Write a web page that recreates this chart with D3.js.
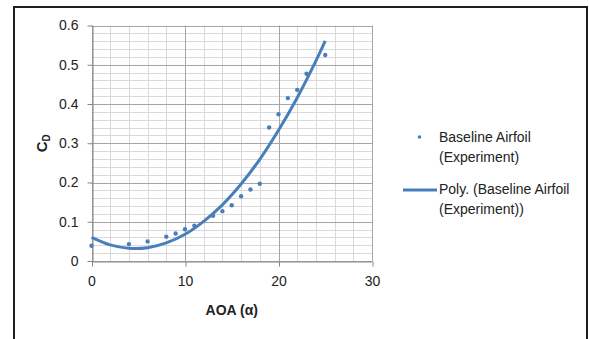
<!DOCTYPE html>
<html>
<head>
<meta charset="utf-8">
<script src="https://cdn.jsdelivr.net/npm/d3@7"></script>
<style>
  body { margin: 0; background: #fff; }
  text { font-family: "Liberation Sans", Arial, sans-serif; }
</style>
</head>
<body>
<script>
// measured points (AOA in degrees, Cd)
var aoa = [0, 4, 6, 8, 9, 10, 11, 13, 14, 15, 16, 17, 18, 19, 20, 21, 22, 23, 25];
var cd = [0.039, 0.043, 0.050, 0.062, 0.070, 0.081, 0.090, 0.115, 0.127, 0.142, 0.165, 0.182, 0.197, 0.340, 0.374, 0.415, 0.436, 0.477, 0.525];

// polynomial trendline
var trendAoa = [0, 2, 4, 6, 8, 10, 12, 14, 16, 18, 20, 22, 24, 25];
var trendCd = [0.060, 0.041, 0.0325, 0.034, 0.046, 0.068, 0.101, 0.143, 0.196, 0.259, 0.333, 0.416, 0.510, 0.561];

var xTicks = [0, 10, 20, 30];
var yTicks = [0, 0.1, 0.2, 0.3, 0.4, 0.5, 0.6];
var legendLabels = [["Baseline Airfoil", "(Experiment)"], ["Poly. (Baseline Airfoil", "(Experiment))"]];

var w = 589;
var h = 339;
var blue = "#4a7ebb";

var svg = d3.select("body")
	.append("svg")
	.attr("width", w)
	.attr("height", h);

// chart frame
svg.append("rect")
	.attr("x", 14)
	.attr("y", 7)
	.attr("width", 573)
	.attr("height", 345)
	.attr("fill", "none")
	.attr("stroke", "#1f1f1f")
	.attr("stroke-width", 2);

var x = d3.scaleLinear().domain([0, 30]).range([91.5, 372]);
var y = d3.scaleLinear().domain([0, 0.6]).range([261, 25.5]);

// minor grid
svg.append("g")
	.selectAll("line")
	.data(d3.range(0, 31, 2))
	.enter()
	.append("line")
	.attr("x1", function(d) { return Math.round(x(d)) + 0.5; })
	.attr("x2", function(d) { return Math.round(x(d)) + 0.5; })
	.attr("y1", y(0))
	.attr("y2", y(0.6))
	.attr("stroke", "#d9d9d9");

svg.append("g")
	.selectAll("line")
	.data(d3.range(0, 31).map(function(i) { return i * 0.02; }))
	.enter()
	.append("line")
	.attr("x1", x(0))
	.attr("x2", x(30))
	.attr("y1", function(d) { return Math.round(y(d)) + 0.5; })
	.attr("y2", function(d) { return Math.round(y(d)) + 0.5; })
	.attr("stroke", "#d9d9d9");

// major grid
svg.append("g")
	.selectAll("line")
	.data(xTicks)
	.enter()
	.append("line")
	.attr("x1", function(d) { return Math.round(x(d)) + 0.5; })
	.attr("x2", function(d) { return Math.round(x(d)) + 0.5; })
	.attr("y1", y(0))
	.attr("y2", y(0.6))
	.attr("stroke", "#a6a6a6");

svg.append("g")
	.selectAll("line")
	.data(yTicks)
	.enter()
	.append("line")
	.attr("x1", x(0))
	.attr("x2", x(30))
	.attr("y1", function(d) { return Math.round(y(d)) + 0.5; })
	.attr("y2", function(d) { return Math.round(y(d)) + 0.5; })
	.attr("stroke", "#a6a6a6");

// axes
var xAxis = svg.append("g")
	.attr("transform", "translate(0," + (Math.round(y(0)) + 0.5) + ")")
	.call(d3.axisBottom(x).tickValues(xTicks).tickSize(5).tickPadding(10).tickSizeOuter(0));
var yAxis = svg.append("g")
	.attr("transform", "translate(" + (Math.round(x(0)) + 0.5) + ",0)")
	.call(d3.axisLeft(y).tickValues(yTicks).tickSize(5).tickPadding(9).tickSizeOuter(0)
		.tickFormat(function(d) { return d === 0 ? "0" : d3.format(".1f")(d); }));

[xAxis, yAxis].forEach(function(a) {
	a.select(".domain").attr("stroke", "#868686");
	a.selectAll(".tick line").attr("stroke", "#868686");
	a.selectAll(".tick text")
		.attr("font-family", "Liberation Sans, Arial, sans-serif")
		.attr("font-size", "14px")
		.attr("fill", "#222");
});
xAxis.selectAll(".tick line").attr("transform", "translate(0.5,0)");

// trendline
var line = d3.line()
	.x(function(d, i) { return x(trendAoa[i]); })
	.y(function(d) { return y(d); })
	.curve(d3.curveCatmullRom);

svg.append("path")
	.datum(trendCd)
	.attr("d", line)
	.attr("fill", "none")
	.attr("stroke", blue)
	.attr("stroke-width", 3);

// data points
svg.selectAll("circle.pt")
	.data(cd)
	.enter()
	.append("circle")
	.attr("class", "pt")
	.attr("cx", function(d, i) { return x(aoa[i]); })
	.attr("cy", function(d) { return y(d); })
	.attr("r", 2.2)
	.attr("fill", blue);

// axis titles
svg.append("text")
	.attr("x", (x(0) + x(30)) / 2)
	.attr("y", 315)
	.attr("text-anchor", "middle")
	.attr("font-size", "14px")
	.attr("font-weight", "bold")
	.attr("fill", "#222")
	.text("AOA (\u03b1)");

var yt = svg.append("text")
	.attr("transform", "translate(47," + ((y(0) + y(0.6)) / 2) + ") rotate(-90)")
	.attr("text-anchor", "middle")
	.attr("font-size", "15px")
	.attr("font-weight", "bold")
	.attr("fill", "#222");
yt.append("tspan").text("C");
yt.append("tspan").attr("font-size", "10px").attr("dy", 3).text("D");

// legend
var leg = svg.append("g");
leg.append("circle")
	.attr("cx", 419.5)
	.attr("cy", 137)
	.attr("r", 1.8)
	.attr("fill", blue);
leg.append("line")
	.attr("x1", 403)
	.attr("x2", 437)
	.attr("y1", 190)
	.attr("y2", 190)
	.attr("stroke", blue)
	.attr("stroke-width", 3);

leg.selectAll("text")
	.data(legendLabels)
	.enter()
	.append("text")
	.attr("font-size", "14px")
	.attr("fill", "#222")
	.each(function(d, i) {
		var t = d3.select(this);
		t.append("tspan").attr("x", 439).attr("y", 142 + i * 52).text(d[0]);
		t.append("tspan").attr("x", 439).attr("y", 162 + i * 52).text(d[1]);
	});
</script>
</body>
</html>
